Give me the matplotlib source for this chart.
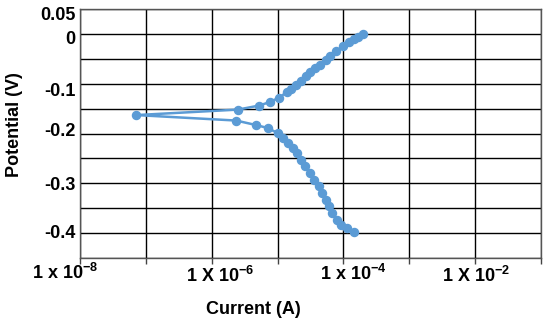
import matplotlib
matplotlib.use("Agg")
import matplotlib.pyplot as plt
import matplotlib.ticker as mt
import matplotlib.transforms as mtr

plt.rcParams['font.family'] = ['Liberation Sans', 'DejaVu Sans']
plt.rcParams['font.weight'] = 'bold'
plt.rcParams['mathtext.fontset'] = 'custom'
plt.rcParams['mathtext.rm'] = 'Liberation Sans:bold'
plt.rcParams['mathtext.bf'] = 'Liberation Sans:bold'

## data
# anodic branch, from the top (0 V) down to the corrosion point
i_anod = [2.0e-4, 1.66e-4, 1.45e-4, 1.2e-4, 1.0e-4, 7.6e-5, 6.2e-5, 5.4e-5,
          4.4e-5, 3.7e-5, 3.1e-5, 2.7e-5, 2.24e-5, 1.9e-5, 1.58e-5, 1.38e-5,
          1.05e-5, 7.6e-6, 5.2e-6, 2.5e-6]
e_anod = [0.000, -0.007, -0.010, -0.016, -0.025, -0.035, -0.045, -0.052,
          -0.062, -0.068, -0.077, -0.085, -0.094, -0.102, -0.110, -0.117,
          -0.128, -0.137, -0.144, -0.152]
# point at the tip
i_corr = [7.2e-8]
e_corr = [-0.163]
# cathodic branch
i_cath = [2.35e-6, 4.7e-6, 7.1e-6, 1.0e-5, 1.2e-5, 1.45e-5, 1.74e-5, 2.0e-5,
          2.3e-5, 2.63e-5, 3.1e-5, 3.55e-5, 4.2e-5, 4.8e-5, 5.4e-5, 6.0e-5,
          6.8e-5, 7.9e-5, 9.3e-5, 1.15e-4, 1.45e-4]
e_cath = [-0.174, -0.183, -0.189, -0.199, -0.209, -0.219, -0.229, -0.239,
          -0.253, -0.266, -0.279, -0.293, -0.306, -0.320, -0.333, -0.346,
          -0.360, -0.373, -0.383, -0.390, -0.398]

x_ticks = [1e-8, 1e-6, 1e-4, 1e-2]
x_labels = [r"1 x 10$^{\mathbf{-8}}$", r"1 X 10$^{\mathbf{-6}}$",
            r"1 x 10$^{\mathbf{-4}}$", r"1 X 10$^{\mathbf{-2}}$"]
x_minor = [1e-7, 1e-5, 1e-3, 1e-1]
y_ticks = [0.05, 0.0, -0.1, -0.2, -0.3, -0.4]
y_labels = ["0.05", "0", "-0.1", "-0.2", "-0.3", "-0.4"]
y_grid = [0.05, 0.0, -0.05, -0.1, -0.15, -0.2, -0.25, -0.3, -0.35, -0.4, -0.45]

## figure
fig = plt.figure(figsize=(5.5, 3.21), dpi=100)
ax = fig.add_axes([80/550, 63/321, 461/550, 249/321])

ax.plot(i_anod + i_corr + i_cath, e_anod + e_corr + e_cath, color="#5B9BD5",
        lw=1.8, marker="o", ms=5.8, zorder=3)

ax.set_xscale("log")
ax.set_xlim(1e-8, 1e-1)
ax.set_ylim(-0.45, 0.05)

ax.xaxis.set_major_locator(mt.FixedLocator(x_ticks))
ax.xaxis.set_minor_locator(mt.FixedLocator(x_minor))
ax.xaxis.set_major_formatter(mt.FixedFormatter(x_labels))
ax.xaxis.set_minor_formatter(mt.NullFormatter())
ax.yaxis.set_major_locator(mt.FixedLocator(y_ticks))
ax.yaxis.set_major_formatter(mt.FixedFormatter(y_labels))
ax.yaxis.set_minor_locator(mt.FixedLocator(y_grid))

ax.grid(True, which="both", color="black", lw=1.0)
ax.tick_params(axis="x", which="both", length=4, width=1, color="#444",
               labelsize=13, pad=2)
ax.tick_params(axis="y", which="both", length=0, labelsize=13, pad=3)
for s in ax.spines.values():
    s.set_color("#555")
    s.set_linewidth(1.0)

# small shifts of the tick labels, as in the picture
dx = [-15, 8, 10, 1]
dy = [3, 0, 2, 0]
for lab, a, b in zip(ax.get_xticklabels(), dx, dy):
    lab.set_transform(lab.get_transform() + mtr.ScaledTranslation(a/100, b/100, fig.dpi_scale_trans))
ydy = [-5, -4, -6, 4, 0, 2]
for lab, b in zip(ax.get_yticklabels(), ydy):
    lab.set_transform(lab.get_transform() + mtr.ScaledTranslation(0, b/100, fig.dpi_scale_trans))

fig.text(15/550, 1 - 125/321, "Potential (V)", rotation=90, ha="center",
         va="center", fontsize=13, fontweight="bold")
fig.text(253/550, 1 - 309/321, "Current (A)", ha="center", va="center",
         fontsize=13, fontweight="bold")

fig.savefig("out.png", dpi=100)
